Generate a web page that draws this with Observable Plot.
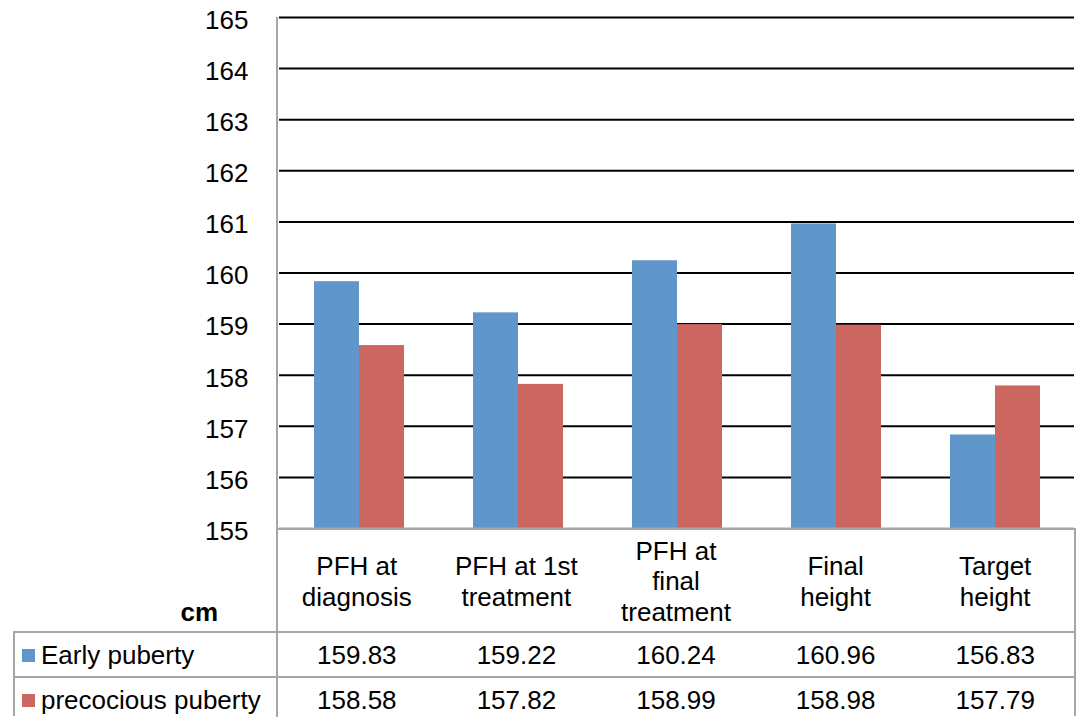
<!DOCTYPE html>
<html>
<head>
<meta charset="utf-8">
<script src="https://cdn.jsdelivr.net/npm/d3@7"></script>
<script src="https://cdn.jsdelivr.net/npm/@observablehq/plot@0.6"></script>
<style>
  html, body { margin: 0; padding: 0; background: white; }
  #wrap { position: relative; width: 1078px; height: 717px; overflow: hidden; font-family: "Liberation Sans", Arial, sans-serif; color: #000; }
  #wrap svg { position: absolute; left: 0; top: 0; }
  .cell { position: absolute; display: flex; align-items: center; justify-content: center; text-align: center; font-size: 26px; line-height: 30.5px; white-space: pre-line; box-sizing: border-box; }
  .hline { position: absolute; height: 2px; background: #a6a6a6; }
  .vline { position: absolute; width: 2px; background: #a6a6a6; }
  .sw { display: inline-block; width: 13px; height: 13px; margin-right: 6px; }
</style>
</head>
<body>
<div id="wrap"></div>
<script>
const categories = ["PFH at diagnosis", "PFH at 1st treatment", "PFH at final treatment", "Final height", "Target height"];
const categoryLabels = ["PFH at\ndiagnosis", "PFH at 1st\ntreatment", "PFH at\nfinal\ntreatment", "Final\nheight", "Target\nheight"];
const seriesNames = ["Early puberty", "precocious puberty"];
const earlyPuberty = [159.83, 159.22, 160.24, 160.96, 156.83];
const precociousPuberty = [158.58, 157.82, 158.99, 158.98, 157.79];
const yTicks = [155, 156, 157, 158, 159, 160, 161, 162, 163, 164, 165];
const seriesColors = ["#6096CA", "#CC6660"];
const unitLabel = "cm";

const seriesValues = [earlyPuberty, precociousPuberty];
const data = categories.flatMap((c, i) => seriesNames.map((s, j) => ({category: c, series: s, value: seriesValues[j][i]})));

const W = 1078, plotLeft = 277, plotRight = 1075, plotTop = 17, plotBottom = 528;

const chart = Plot.plot({
  width: W,
  height: plotBottom + 17,
  marginLeft: plotLeft,
  marginRight: W - plotRight,
  marginTop: plotTop,
  marginBottom: 17,
  style: {fontFamily: '"Liberation Sans", Arial, sans-serif', fontSize: "26px", color: "#000", background: "transparent", overflow: "visible"},
  y: {domain: [155, 165], ticks: yTicks, label: null},
  fx: {domain: categories, padding: 0, axis: null},
  x: {domain: seriesNames, paddingInner: 0, paddingOuter: 0.74, align: 0.5, axis: null},
  color: {domain: seriesNames, range: seriesColors},
  marks: [
    Plot.ruleY(yTicks.filter(t => t > 155), {stroke: "#000", strokeWidth: 2}),
    Plot.barY(data, {fx: "category", x: "series", y1: 155, y2: "value", fill: "series"}),
    Plot.ruleY([155], {stroke: "#a6a6a6", strokeWidth: 2}),
    Plot.axisY({ticks: yTicks, tickSize: 0, tickPadding: 31, fontSize: 26, dy: 3, fill: "#000", label: null})
  ]
});

const wrap = document.getElementById("wrap");
wrap.appendChild(chart);

function add(cls, css, text) {
  const d = document.createElement("div");
  d.className = cls;
  Object.assign(d.style, css);
  if (text != null) d.textContent = text;
  wrap.appendChild(d);
  return d;
}

// table geometry
const headTop = 529, headBottom = 632, row1Bottom = 677, row2Bottom = 722, tableLeft = 13;
const colW = (plotRight - plotLeft) / categories.length;

// header: category labels
categoryLabels.forEach((lab, i) => {
  add("cell", {left: (plotLeft + i * colW) + "px", top: (headTop + 2) + "px", width: colW + "px", height: (headBottom - headTop - 2) + "px"}, lab);
});
// unit label
add("cell", {left: tableLeft + "px", top: "594px", width: (218 - tableLeft) + "px", height: "36px", justifyContent: "flex-end", fontWeight: "bold"}, unitLabel);

// data rows
const rowTops = [headBottom, row1Bottom];
const rowBots = [row1Bottom, row2Bottom];
seriesNames.forEach((s, j) => {
  const top = rowTops[j] + 2, h = rowBots[j] - rowTops[j] - 2;
  const lc = add("cell", {left: (tableLeft + 9) + "px", top: top + "px", width: (plotLeft - tableLeft - 9) + "px", height: h + "px", justifyContent: "flex-start"});
  const sw = document.createElement("span");
  sw.className = "sw";
  sw.style.background = seriesColors[j];
  lc.appendChild(sw);
  lc.appendChild(document.createTextNode(s));
  seriesValues[j].forEach((v, i) => {
    add("cell", {left: (plotLeft + i * colW) + "px", top: top + "px", width: colW + "px", height: h + "px"}, v.toFixed(2));
  });
});

// grid lines of the table
add("hline", {left: plotLeft + "px", top: (headTop - 1) + "px", width: (plotRight - plotLeft + 1) + "px"});
add("hline", {left: tableLeft + "px", top: (headBottom - 1) + "px", width: (plotRight - tableLeft + 1) + "px"});
add("hline", {left: tableLeft + "px", top: (row1Bottom - 1) + "px", width: (plotRight - tableLeft + 1) + "px"});
add("vline", {left: (plotLeft - 1) + "px", top: plotTop + "px", height: (717 - plotTop) + "px"});
add("vline", {left: (plotRight - 1) + "px", top: (headTop - 1) + "px", height: (717 - headTop) + "px"});
add("vline", {left: tableLeft + "px", top: (headBottom - 1) + "px", height: (717 - headBottom) + "px"});
</script>
</body>
</html>
